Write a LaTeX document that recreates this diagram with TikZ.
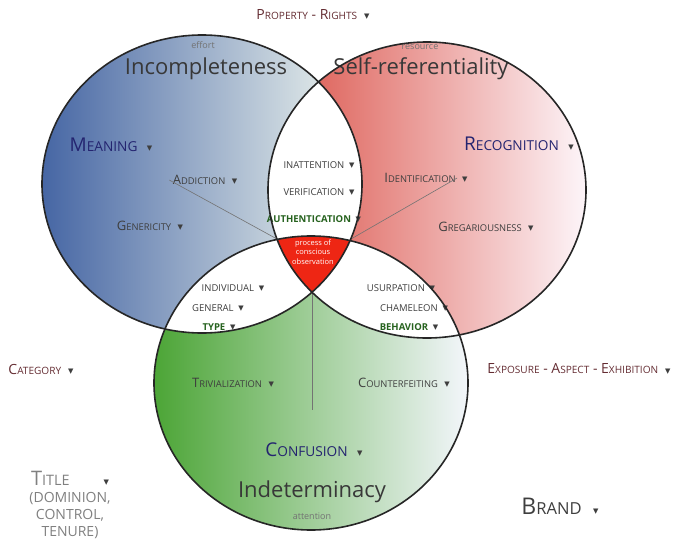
\documentclass[tikz,border=0pt]{standalone}
\usepackage{fontspec}
\setmainfont{Open Sans}
\newfontfamily\symfont{DejaVu Sans}
\usepackage{tikz}
\definecolor{blueL}{RGB}{70,102,164}
\definecolor{blueM}{RGB}{200,214,218}
\definecolor{blueR}{RGB}{242,248,240}
\definecolor{redL}{RGB}{218,80,70}
\definecolor{redR}{RGB}{253,245,249}
\definecolor{greenL}{RGB}{76,165,54}
\definecolor{greenR}{RGB}{243,246,251}
\definecolor{core}{RGB}{238,38,20}
\definecolor{navy}{RGB}{36,36,112}
\definecolor{txtgray}{RGB}{62,62,62}
\definecolor{tagreen}{RGB}{38,98,30}
\definecolor{brown}{RGB}{100,44,50}

% fake small caps and the little drop-down mark
\newcommand{\smc}[2]{#1\scalebox{0.72}{#2}}
\newcommand{\dd}{\hspace{0.5em}{\color{txtgray}\symfont\fontsize{7}{7}\selectfont\raisebox{0.25ex}{▼}}}

\def\ellA{(202,184) ellipse [x radius=160pt, y radius=149pt]}
\def\ellB{(427,190) ellipse [x radius=159pt, y radius=148pt]}
\def\ellC{(311,383) ellipse [x radius=157pt, y radius=147pt]}

\begin{document}
\begin{tikzpicture}[x=1pt, y=-1pt,
    big/.style={text=txtgray!90!black, font=\fontsize{22}{22}\selectfont},
    note/.style={text=black!55, font=\fontsize{9}{9}\selectfont},
    key/.style={text=navy, font=\fontsize{19}{19}\selectfont},
    item/.style={text=txtgray, font=\fontsize{13}{13}\selectfont},
    lens/.style={text=txtgray, font=\fontsize{9.5}{9.5}\selectfont},
    tag/.style={text=tagreen, font=\fontsize{9.5}{9.5}\selectfont\bfseries},
    outer/.style={text=brown, font=\fontsize{14}{14}\selectfont},
    ring/.style={draw=black!85, line width=1.6pt},
    link/.style={draw=black!55, line width=0.6pt}]

\useasboundingbox (0,0) rectangle (681,541);

% the three sets
\shade[left color=blueL, middle color=blueM, right color=blueR] \ellA;
\shade[left color=redL, right color=redR] \ellB;
\shade[left color=greenL, right color=greenR] \ellC;

\begin{scope}
  \clip \ellA;
  \fill[white] \ellB;
  \fill[white] \ellC;
\end{scope}
\begin{scope}
  \clip \ellB;
  \fill[white] \ellC;
\end{scope}
\begin{scope}
  \clip \ellA;
  \clip \ellB;
  \fill[core] \ellC;
\end{scope}

\coordinate (tl) at (277,239);
\coordinate (tr) at (351,239);
\coordinate (bot) at (312,292);
\coordinate (vend) at (312,410);

% labels
\node [outer] (prop) at (313,15) {\smc{P}{ROPERTY} - \smc{R}{IGHTS}\dd};

\node [note] (effort) at (203,45) {effort};
\node [big] (incompl) at (206,69) {Incompleteness};
\node [note] (resource) at (420,47) {resource};
\node [big] (selfref) at (421,69) {Self-referentiality};

\node [key] (meaning) at (111,145) {\smc{M}{EANING}\dd};
\node [key] (recog) at (519,144) {\smc{R}{ECOGNITION}\dd};

\node [item] (addict) at (205,180) {\smc{A}{DDICTION}\dd};
\node [item] (generic) at (150,226) {\smc{G}{ENERICITY}\dd};
\node [item] (ident) at (426,178) {\smc{I}{DENTIFICATION}\dd};
\node [item] (greg) at (486,227) {\smc{G}{REGARIOUSNESS}\dd};

\node [lens] (inatt) at (319,165) {INATTENTION\dd};
\node [lens] (verif) at (319,192) {VERIFICATION\dd};
\node [tag] (authent) at (314,219) {AUTHENTICATION\dd};

\node [text=white, align=center, font=\fontsize{7.5}{9.5}\selectfont] (process) at (313,252) {process of\\conscious\\observation};

\node [lens] (indiv) at (233,288) {INDIVIDUAL\dd};
\node [lens] (general) at (218,308) {GENERAL\dd};
\node [tag] (type) at (219,327) {TYPE\dd};
\node [lens] (usurp) at (401,288) {USURPATION\dd};
\node [lens] (chamel) at (414,308) {CHAMELEON\dd};
\node [tag] (behav) at (409,327) {BEHAVIOR\dd};

\node [outer] (category) at (41,369) {\smc{C}{ATEGORY}\dd};
\node [outer] (exposure) at (579,369) {\smc{E}{XPOSURE} - \smc{A}{SPECT} - \smc{E}{XHIBITION}\dd};

\node [item] (trivial) at (233,383) {\smc{T}{RIVIALIZATION}\dd};
\node [item] (counterf) at (404,383) {\smc{C}{OUNTERFEITING}\dd};

\node [key] (confusion) at (314,450) {\smc{C}{ONFUSION}\dd};
\node [big] (indet) at (312,492) {Indeterminacy};
\node [note] (attention) at (312,516) {attention};

\node [text=gray, align=center, font=\fontsize{14}{17}\selectfont] (title) at (70,505)
  {\fontsize{20}{17}\selectfont\smc{T}{ITLE}\hspace{1.2em}\dd\\(DOMINION,\\CONTROL,\\TENURE)};
\node [text=txtgray, font=\fontsize{23}{23}\selectfont] (brand) at (560,506) {\smc{B}{RAND}\dd};

% connectors
\draw [link] (addict.west) -- (tl);
\draw [link] ([xshift=-14pt]ident.east) -- (tr);
\draw [link] (bot) -- (vend);

\draw [ring] \ellA;
\draw [ring] \ellB;
\draw [ring] \ellC;

\end{tikzpicture}
\end{document}
